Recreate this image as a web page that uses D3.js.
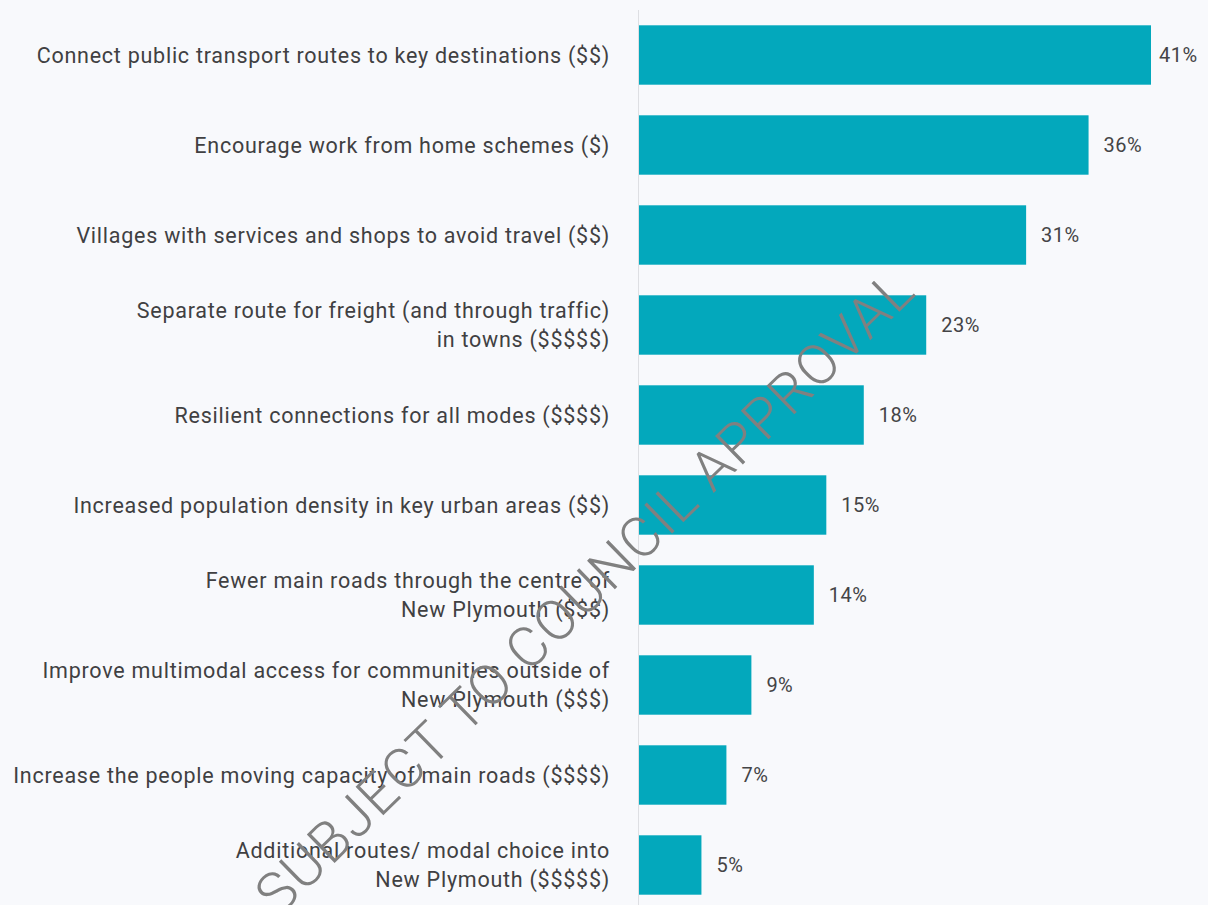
<!DOCTYPE html>
<html><head><meta charset="utf-8">
<script src="https://cdn.jsdelivr.net/npm/d3@7"></script>
<style>
html,body{margin:0;padding:0;background:#f8f9fc;}
svg{display:block;}
</style></head>
<body>
<svg id="chart" width="1208" height="905"></svg>
<script>
const categories = [
  "Connect public transport routes to key destinations ($$)",
  "Encourage work from home schemes ($)",
  "Villages with services and shops to avoid travel ($$)",
  "Separate route for freight (and through traffic)\nin towns ($$$$$)",
  "Resilient connections for all modes ($$$$)",
  "Increased population density in key urban areas ($$)",
  "Fewer main roads through the centre of\nNew Plymouth ($$$)",
  "Improve multimodal access for communities outside of\nNew Plymouth ($$$)",
  "Increase the people moving capacity of main roads ($$$$)",
  "Additional routes/ modal choice into\nNew Plymouth ($$$$$)"
];
const values = [41, 36, 31, 23, 18, 15, 14, 9, 7, 5];
const watermark = "SUBJECT TO COUNCIL APPROVAL";

const W = 1208, H = 905;
const svg = d3.select("#chart");
svg.append("rect").attr("width", W).attr("height", H).attr("fill", "#f8f9fc");

const x0 = 639;
const x = d3.scaleLinear().domain([0, 41]).range([x0, 1151]);
const y = d3.scaleBand().domain(categories).range([10, 910]).paddingInner(0.34).paddingOuter(0.17);

// axis line
svg.append("line").attr("x1", x0 - 0.5).attr("x2", x0 - 0.5).attr("y1", 10).attr("y2", H)
  .attr("stroke", "#dedfe3").attr("stroke-width", 1);

// bars
svg.append("g").selectAll("rect").data(values).join("rect")
  .attr("x", x0)
  .attr("y", (d, i) => y(categories[i]))
  .attr("width", d => x(d) - x0)
  .attr("height", y.bandwidth())
  .attr("fill", "#03a8bc");

// category labels
const lab = svg.append("g").attr("font-family", "Roboto, 'Liberation Sans', sans-serif")
  .attr("font-size", 21.5).attr("letter-spacing", "0.75px")
  .attr("fill", "#404042").attr("text-anchor", "end");
categories.forEach((c, i) => {
  const lines = c.split("\n");
  const cy = y(c) + y.bandwidth() / 2;
  const lh = 29;
  const t = lab.append("text").attr("x", 610);
  lines.forEach((ln, j) => {
    t.append("tspan").attr("x", 610)
      .attr("y", cy + (j - (lines.length - 1) / 2) * lh)
      .attr("dy", "0.35em").text(ln);
  });
});

// value labels
svg.append("g").attr("font-family", "Roboto, 'Liberation Sans', sans-serif")
  .attr("font-size", 20).attr("letter-spacing", "0.5px").attr("fill", "#444446")
  .selectAll("text").data(values).join("text")
  .attr("x", d => Math.min(x(d) + 15, W - 49))
  .attr("y", (d, i) => y(categories[i]) + y.bandwidth() / 2)
  .attr("dy", "0.35em")
  .text(d => d + "%");

// watermark
svg.append("text")
  .attr("transform", "translate(584,592) rotate(-44.3)")
  .attr("text-anchor", "middle").attr("dy", "0.35em")
  .attr("font-family", "Roboto, 'Liberation Sans', sans-serif")
  .attr("font-weight", 300)
  .attr("font-size", 56)
  .attr("fill", "#808080")
  .attr("textLength", 892).attr("lengthAdjust", "spacing")
  .text(watermark);
</script>
</body></html>
